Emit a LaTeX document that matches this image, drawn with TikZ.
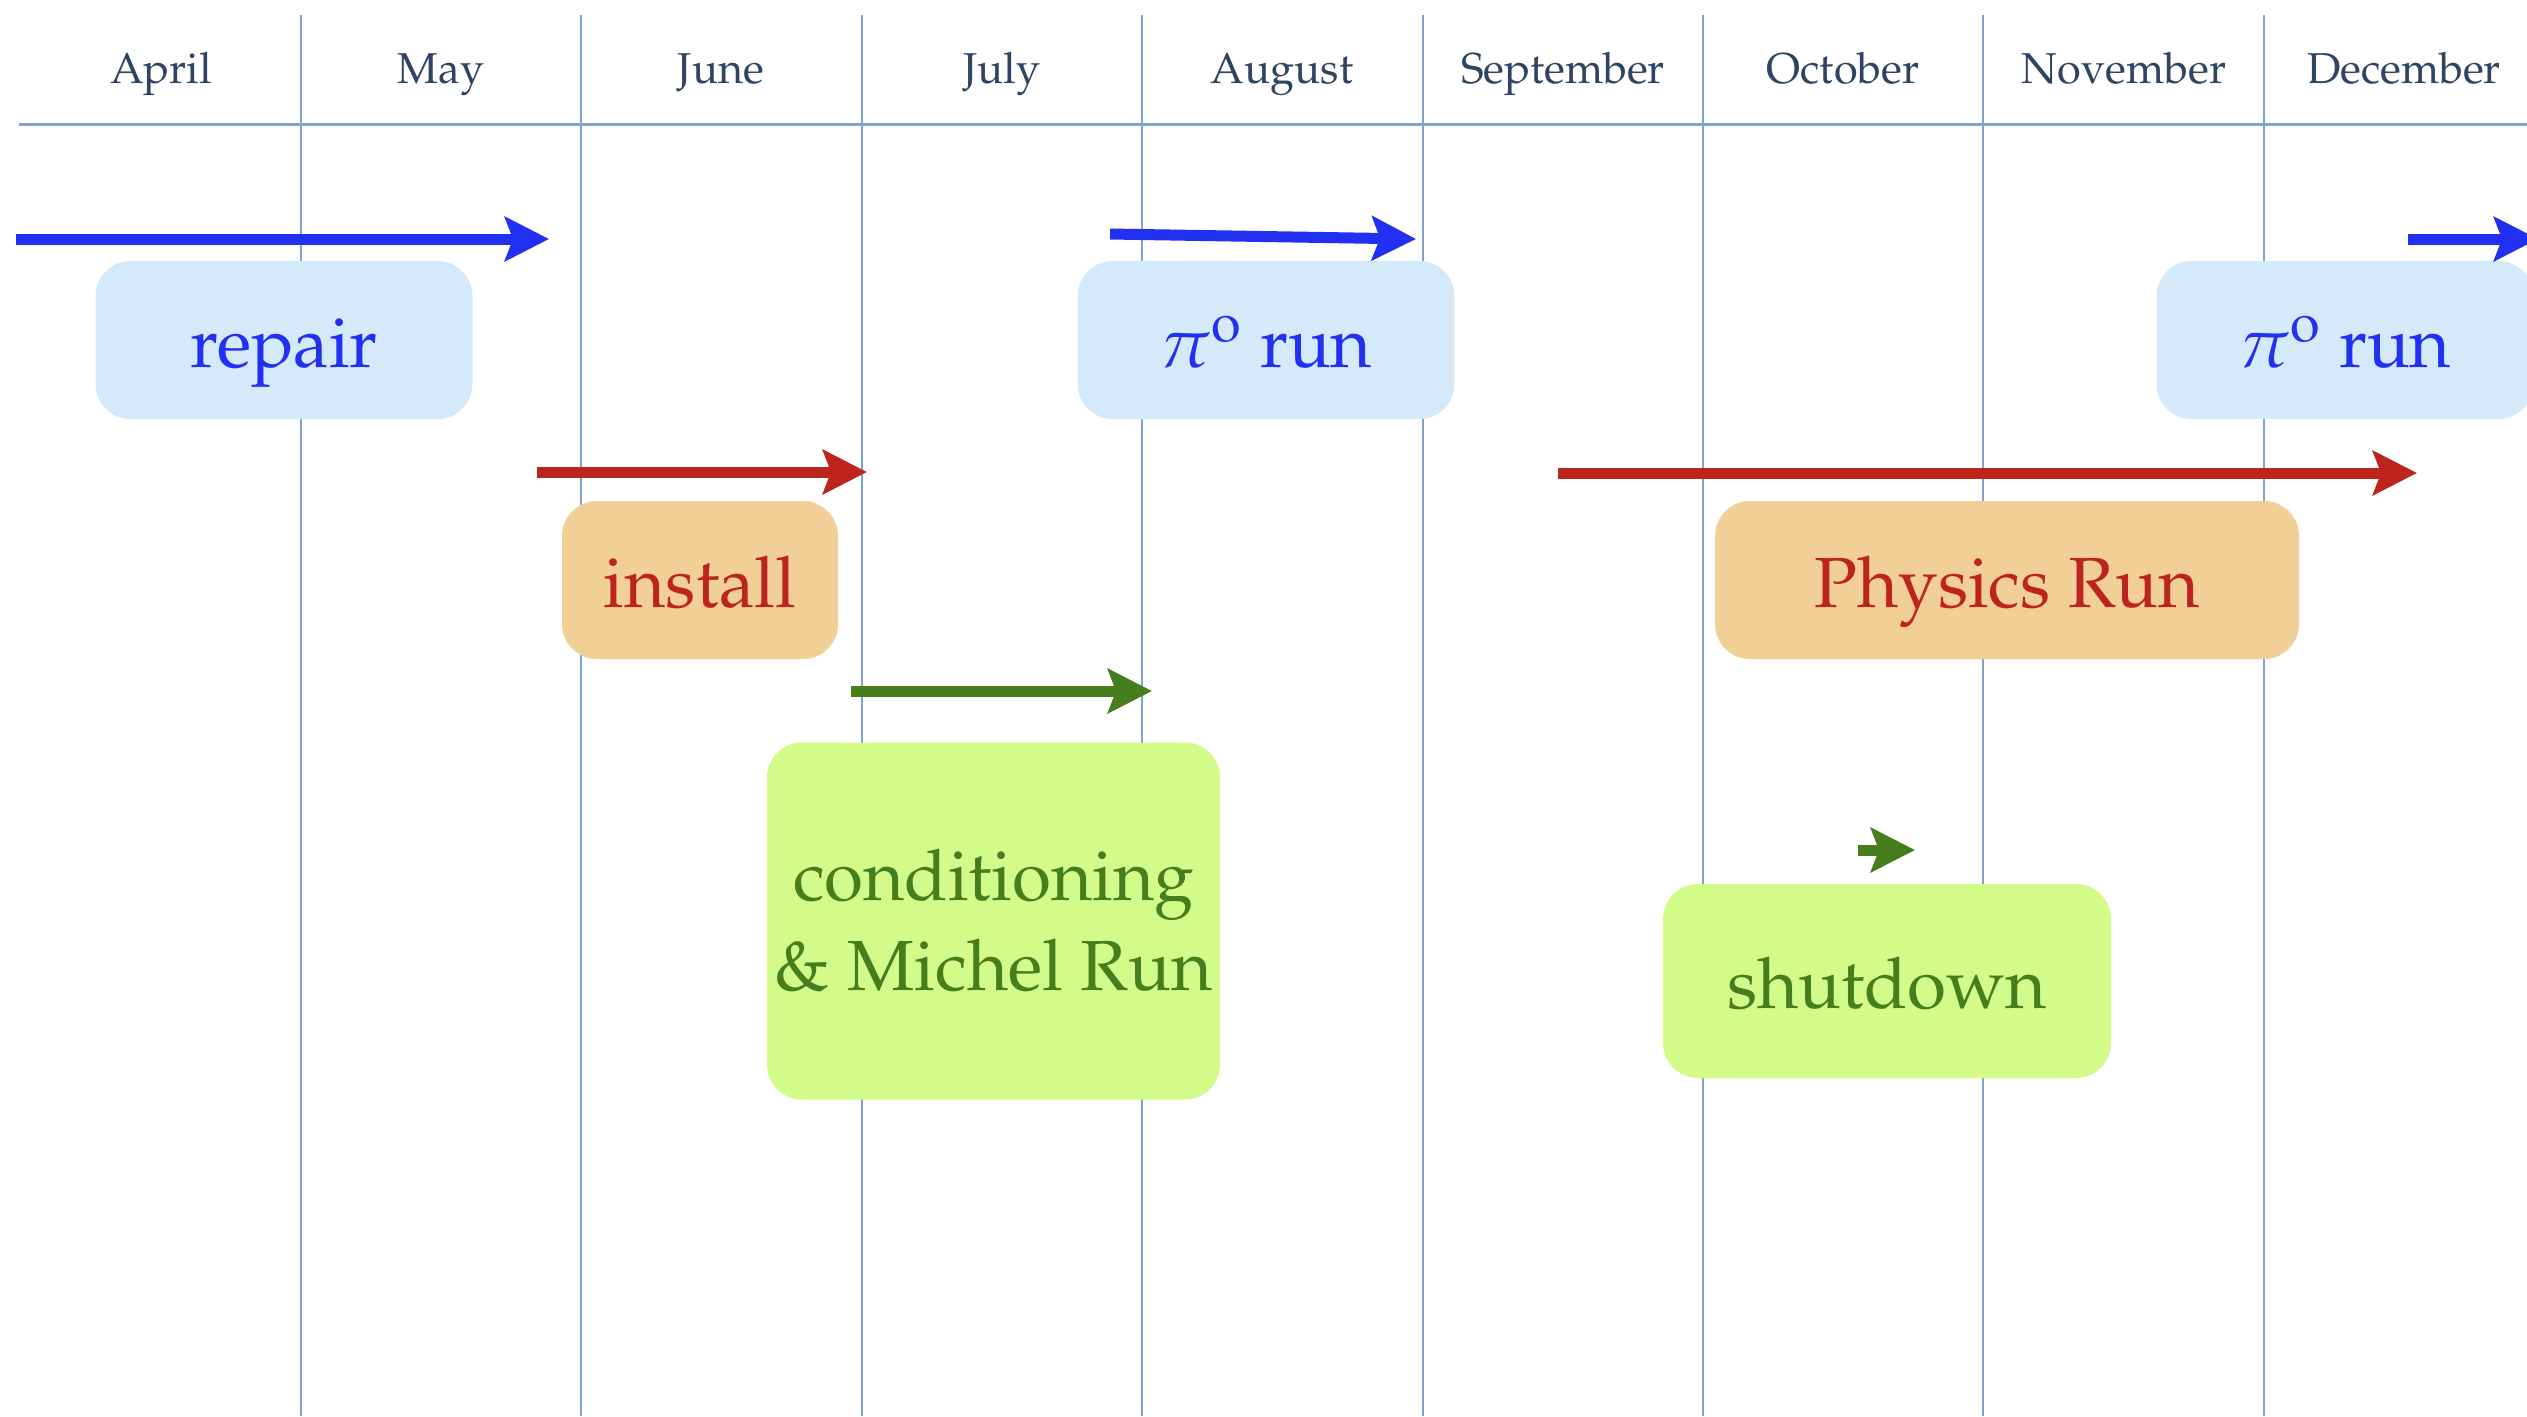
\documentclass[tikz,border=0pt]{standalone}
\usepackage[T1]{fontenc}
\usepackage{mathpazo}
\usetikzlibrary{arrows.meta}

\definecolor{gridblue}{HTML}{7FA3CF}
\definecolor{monthtext}{HTML}{2E4463}
\definecolor{runblue}{HTML}{2230F2}
\definecolor{runbluefill}{HTML}{D4E9F9}
\definecolor{runred}{HTML}{BE241E}
\definecolor{runredfill}{HTML}{F1CF96}
\definecolor{rungreen}{HTML}{467E1D}
\definecolor{rungreenfill}{HTML}{D3FB89}

\begin{document}
\begin{tikzpicture}[
    month/.style={text=monthtext, font=\fontsize{12.3}{15}\selectfont, anchor=base},
    grid/.style={draw=gridblue, line width=0.7pt},
    phase/.style={rounded corners=0.35cm, inner sep=0pt, align=center,
        font=\fontsize{20.2}{25.6}\selectfont},
    oneline/.style={text height=0.62cm, text depth=0.08cm},
    bluebox/.style={phase, oneline, fill=runbluefill, text=runblue},
    redbox/.style={phase, oneline, fill=runredfill, text=runred},
    greenbox/.style={phase, fill=rungreenfill, text=rungreen},
    run/.style={line width=0.11cm, -{Stealth[length=0.44cm, width=0.44cm, inset=0.08cm]}}
]

\useasboundingbox (0,0) rectangle (25.27,-14.16);

\draw[grid, line width=0.85pt] (0.19,-1.24) -- (25.27,-1.24);
\draw[grid] (3.01,-0.15) -- (3.01,-14.16);
\draw[grid] (5.81,-0.15) -- (5.81,-14.16);
\draw[grid] (8.62,-0.15) -- (8.62,-14.16);
\draw[grid] (11.42,-0.15) -- (11.42,-14.16);
\draw[grid] (14.23,-0.15) -- (14.23,-14.16);
\draw[grid] (17.03,-0.15) -- (17.03,-14.16);
\draw[grid] (19.83,-0.15) -- (19.83,-14.16);
\draw[grid] (22.64,-0.15) -- (22.64,-14.16);

\node[month] (apr) at (1.61,-0.83) {April};
\node[month] (may) at (4.41,-0.83) {May};
\node[month] (jun) at (7.21,-0.83) {June};
\node[month] (jul) at (10.02,-0.83) {July};
\node[month] (aug) at (12.82,-0.83) {August};
\node[month] (sep) at (15.63,-0.83) {September};
\node[month] (oct) at (18.43,-0.83) {October};
\node[month] (nov) at (21.24,-0.83) {November};
\node[month] (dec) at (24.04,-0.83) {December};

\node[bluebox, minimum width=3.77cm, minimum height=1.58cm] (repair) at (2.84,-3.40) {repair};
\node[bluebox, minimum width=3.77cm, minimum height=1.58cm] (pionA) at (12.66,-3.40) {$\pi^{\mathrm{o}}$ run};
\node[bluebox, minimum width=3.77cm, minimum height=1.58cm] (pionB) at (23.45,-3.40) {$\pi^{\mathrm{o}}$ run};
\node[redbox, minimum width=2.76cm, minimum height=1.58cm] (install) at (7.00,-5.80) {install};
\node[redbox, minimum width=5.84cm, minimum height=1.58cm] (physics) at (20.07,-5.80) {Physics Run};
\node[greenbox, minimum width=4.53cm, minimum height=3.57cm] (michel) at (9.935,-9.21) {conditioning\\\& Michel Run};
\node[greenbox, oneline, minimum width=4.48cm, minimum height=1.94cm] (shutdown) at (18.87,-9.81) {shutdown};

\coordinate (repairS) at (0.16,-2.39);
\coordinate (repairE) at (5.49,-2.39);
\coordinate (pionAS) at (11.10,-2.34);
\coordinate (pionAE) at (14.16,-2.39);
\coordinate (pionBS) at (24.08,-2.39);
\coordinate (pionBE) at (25.38,-2.39);
\coordinate (installS) at (5.37,-4.72);
\coordinate (installE) at (8.67,-4.72);
\coordinate (physicsS) at (15.58,-4.73);
\coordinate (physicsE) at (24.17,-4.73);
\coordinate (michelS) at (8.51,-6.91);
\coordinate (michelE) at (11.52,-6.91);
\coordinate (shutdownS) at (18.58,-8.50);
\coordinate (shutdownE) at (19.15,-8.50);

\draw[run, runblue] (repairS) -- (repairE);
\draw[run, runblue] (pionAS) -- (pionAE);
\draw[run, runblue] (pionBS) -- (pionBE);
\draw[run, runred] (installS) -- (installE);
\draw[run, runred] (physicsS) -- (physicsE);
\draw[run, rungreen] (michelS) -- (michelE);
\draw[run, rungreen] (shutdownS) -- (shutdownE);

\end{tikzpicture}
\end{document}
